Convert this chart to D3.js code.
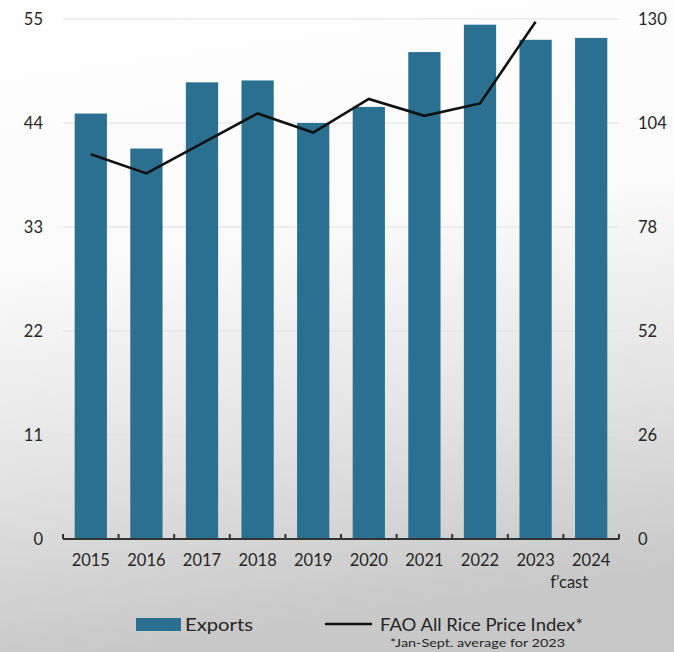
<!DOCTYPE html>
<html>
<head>
<meta charset="utf-8">
<script src="https://cdn.jsdelivr.net/npm/d3@7/dist/d3.min.js"></script>
<style>
  html, body { margin: 0; padding: 0; background: #fff; }
  svg { display: block; }
  text { font-family: Lato, "Open Sans", sans-serif; fill: #262626; }
</style>
</head>
<body>
<svg id="chart" width="674" height="652"></svg>
<script>
// Rice exports (left axis) and FAO All Rice Price Index (right axis)
const years = ["2015", "2016", "2017", "2018", "2019", "2020", "2021", "2022", "2023", "2024"];
const exports = [45.0, 41.3, 48.3, 48.5, 44.0, 45.7, 51.5, 54.4, 52.8, 53.0];
const priceYears = ["2015", "2016", "2017", "2018", "2019", "2020", "2021", "2022", "2023"];
const priceIndex = [96.2, 91.4, 98.9, 106.4, 101.6, 110.0, 105.8, 108.9, 129.3];
const leftTicks = [0, 11, 22, 33, 44, 55];
const rightTicks = [0, 26, 52, 78, 104, 130];

const W = 674, H = 652;
const plot = { left: 63, right: 619, top: 19, bottom: 539 };
const svg = d3.select("#chart");

// soft grey backdrop, lighter at the top
const defs = svg.append("defs");
const bg = defs.append("linearGradient").attr("id", "bg").attr("x1", 0).attr("y1", 0).attr("x2", 0.15).attr("y2", 1);
bg.append("stop").attr("offset", "0%").attr("stop-color", "#ffffff");
bg.append("stop").attr("offset", "42%").attr("stop-color", "#fafafa");
bg.append("stop").attr("offset", "72%").attr("stop-color", "#e3e3e3");
bg.append("stop").attr("offset", "100%").attr("stop-color", "#c8c8c8");
svg.append("rect").attr("width", W).attr("height", H).attr("fill", "url(#bg)");

const x = d3.scaleBand().domain(years).range([plot.left, plot.right]).paddingInner(0.42).paddingOuter(0.21);
const yL = d3.scaleLinear().domain([0, 55]).range([plot.bottom, plot.top]);
const yR = d3.scaleLinear().domain([0, 130]).range([plot.bottom, plot.top]);

// horizontal gridlines
svg.append("g")
  .selectAll("line")
  .data(leftTicks.filter(d => d > 0))
  .join("line")
  .attr("x1", plot.left).attr("x2", plot.right)
  .attr("y1", d => yL(d)).attr("y2", d => yL(d))
  .attr("stroke", "#e2e2e2").attr("stroke-width", 1.2);

// export bars
svg.append("g")
  .selectAll("rect")
  .data(years)
  .join("rect")
  .attr("x", d => x(d))
  .attr("width", x.bandwidth())
  .attr("y", (d, i) => yL(exports[i]))
  .attr("height", (d, i) => yL(0) - yL(exports[i]))
  .attr("fill", "#2b7090");

// price index line
const line = d3.line()
  .x((d, i) => x(priceYears[i]) + x.bandwidth() / 2)
  .y(d => yR(d));
svg.append("path")
  .datum(priceIndex)
  .attr("d", line)
  .attr("fill", "none")
  .attr("stroke", "#111")
  .attr("stroke-width", 2.6)
  .attr("stroke-linejoin", "miter");

// left axis labels
const leftAxis = d3.axisLeft(yL).tickValues(leftTicks).tickSize(0).tickPadding(20);
const gl = svg.append("g").attr("transform", `translate(${plot.left},0)`).call(leftAxis);
gl.select(".domain").remove();
gl.selectAll("text").style("font-size", "16.5px").style("font-family", "Lato, sans-serif").attr("fill", "#262626");

// right axis labels
const rightAxis = d3.axisRight(yR).tickValues(rightTicks).tickSize(0).tickPadding(19);
const gr = svg.append("g").attr("transform", `translate(${plot.right},0)`).call(rightAxis);
gr.select(".domain").remove();
gr.selectAll("text").style("font-size", "16.5px").style("font-family", "Lato, sans-serif").attr("fill", "#262626");

// category axis with ticks between bars
const boundaries = years.map(d => x(d) - x.step() * x.paddingInner() / 2).concat([plot.right]);
const gx = svg.append("g");
gx.append("line")
  .attr("x1", plot.left).attr("x2", plot.right)
  .attr("y1", plot.bottom).attr("y2", plot.bottom)
  .attr("stroke", "#333").attr("stroke-width", 2);
gx.selectAll("line.tick")
  .data(boundaries)
  .join("line")
  .attr("class", "tick")
  .attr("x1", d => d).attr("x2", d => d)
  .attr("y1", plot.bottom).attr("y2", plot.bottom - 5)
  .attr("stroke", "#333").attr("stroke-width", 2);
gx.selectAll("text.year")
  .data(years)
  .join("text")
  .attr("class", "year")
  .attr("x", d => x(d) + x.bandwidth() / 2)
  .attr("y", plot.bottom + 27)
  .attr("text-anchor", "middle")
  .style("font-size", "16.5px")
  .text(d => d);
svg.append("text")
  .attr("x", x("2024") + x.bandwidth() / 2 - 3)
  .attr("y", plot.bottom + 49)
  .attr("text-anchor", "end")
  .style("font-size", "16.5px")
  .text("f\u2019cast");

// legend
const lg = svg.append("g");
lg.append("rect").attr("x", 136).attr("y", 618).attr("width", 45).attr("height", 13).attr("fill", "#2b7090");
lg.append("text").attr("x", 185).attr("y", 631).style("font-size", "17.5px")
  .attr("textLength", 68).attr("lengthAdjust", "spacingAndGlyphs").text("Exports");
lg.append("line").attr("x1", 325).attr("x2", 372).attr("y1", 624).attr("y2", 624).attr("stroke", "#111").attr("stroke-width", 2.6);
lg.append("text").attr("x", 380).attr("y", 631).style("font-size", "17.5px")
  .attr("textLength", 203).attr("lengthAdjust", "spacingAndGlyphs").text("FAO All Rice Price Index*");
lg.append("text").attr("x", 390).attr("y", 647).style("font-size", "12px")
  .attr("textLength", 175).attr("lengthAdjust", "spacingAndGlyphs").text("*Jan-Sept. average for 2023");
</script>
</body>
</html>
